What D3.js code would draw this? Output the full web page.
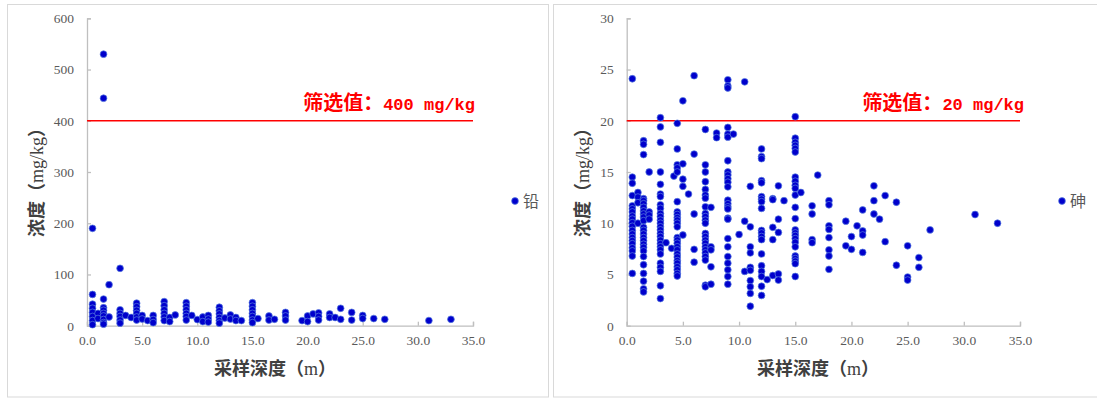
<!DOCTYPE html>
<html><head><meta charset="utf-8">
<script src="https://cdn.jsdelivr.net/npm/d3@7"></script>
<style>
html,body{margin:0;padding:0;background:#fff;}
svg{display:block;}
</style></head>
<body>
<svg id="chart" width="1097" height="398"></svg>
<script>
// ---------------- data ----------------
const xTicks = [0, 5, 10, 15, 20, 25, 30, 35];
const pbYTicks = [0, 100, 200, 300, 400, 500, 600];
const asYTicks = [0, 5, 10, 15, 20, 25, 30];

const pbName = "铅";
const pbThreshold = 400;
const pbThresholdLabel = "400 mg/kg";
const pbDepths = [0.5, 1.0, 1.5, 2.0, 3.0, 3.5, 4.0, 4.5, 5.0, 5.5, 6.0, 7.0, 7.5, 8.0, 9.0, 9.5, 10.0, 10.5, 11.0, 12.0, 12.5, 13.0, 13.5, 14.0, 15.0, 15.5, 16.5, 17.0, 18.0, 19.5, 20.0, 20.5, 21.0, 22.0, 22.5, 23.0, 24.0, 25.0, 26.0, 27.0, 31.0, 33.0];
const pbValues = [
  [190, 61, 42, 34, 26, 18, 10, 2],
  [24, 14],
  [530, 444, 52, 35, 30, 24, 19, 12, 6, 3],
  [80, 17],
  [112, 31, 24, 18, 11, 5],
  [20],
  [16],
  [44, 37, 30, 24, 17, 11],
  [20, 13],
  [10],
  [20, 12, 6],
  [47, 39, 31, 24, 17, 10],
  [16, 8],
  [21],
  [45, 38, 31, 24, 18, 11],
  [20],
  [12],
  [17, 8],
  [20, 13, 7],
  [36, 29, 23, 16, 10, 5],
  [15],
  [21, 13],
  [16, 10],
  [10],
  [45, 38, 31, 24, 18, 11, 6],
  [14],
  [19, 11],
  [12.5],
  [26, 19, 11],
  [10],
  [19, 8],
  [23],
  [25, 18, 11],
  [23, 16],
  [16],
  [34, 12.5],
  [26, 11],
  [20, 14],
  [14],
  [12.5],
  [10],
  [12.5]
];

const asName = "砷";
const asThreshold = 20;
const asThresholdLabel = "20 mg/kg";
const asDepths = [0.5, 1.0, 1.5, 2.0, 3.0, 3.5, 4.0, 4.2, 4.5, 5.0, 5.5, 6.0, 7.0, 7.5, 8.0, 9.0, 9.5, 10.0, 10.5, 11.0, 12.0, 12.5, 13.0, 13.5, 14.0, 15.0, 15.5, 16.5, 17.0, 18.0, 19.5, 20.0, 20.5, 21.0, 22.0, 22.5, 23.0, 24.0, 25.0, 26.0, 27.0, 31.0, 33.0];
const asValues = [
  [24.1, 14.5, 13.9, 12.7, 11.7, 11.4, 11.1, 10.7, 10.4, 10.05, 9.7, 9.3, 8.95, 8.6, 8.3, 8.0, 7.6, 7.3, 6.8, 5.1],
  [13.0, 12.55, 12.0, 10.0],
  [18.05, 17.7, 16.7, 12.4, 12.2, 11.9, 11.55, 11.2, 10.9, 10.6, 10.25, 9.6, 9.3, 8.95, 8.6, 8.3, 7.95, 7.65, 7.3, 6.75, 5.95, 5.1, 4.35, 3.6, 3.3],
  [15.0, 11.1, 10.8, 10.4],
  [20.3, 19.4, 17.9, 15.0, 13.8, 12.85, 12.6, 11.8, 11.45, 10.95, 10.65, 10.3, 10.0, 9.65, 9.35, 9.0, 8.7, 8.35, 8.0, 7.7, 7.4, 7.0, 6.1, 5.7, 5.3, 3.9, 2.65],
  [8.1],
  [7.55],
  [14.6],
  [19.75, 17.25, 15.7, 15.4, 15.0, 12.1, 11.1, 10.85, 10.55, 10.3, 10.0, 9.65, 8.6, 8.35, 8.05, 7.7, 7.4, 7.0, 6.7, 6.35, 6.1, 5.75, 5.45, 5.1, 4.85],
  [21.95, 15.8, 14.3, 13.6, 8.85],
  [12.85],
  [24.4, 16.75, 10.9, 7.45, 6.2],
  [19.15, 15.7, 15.0, 14.05, 13.3, 12.75, 12.45, 11.6, 10.95, 10.65, 10.3, 10.0, 9.0, 8.7, 8.35, 8.05, 7.7, 7.4, 7.1, 6.75, 6.4, 3.95, 3.8],
  [11.55, 7.7, 7.4, 5.75, 4.05],
  [18.8, 18.35],
  [24.0, 23.4, 23.2, 19.35, 18.7, 18.4, 16.1, 15.0, 14.7, 14.35, 14.0, 13.55, 12.25, 11.9, 11.6, 11.4, 10.5, 10.4, 8.5, 7.7, 6.75, 6.1, 5.45, 4.8, 4.05],
  [18.7],
  [8.9],
  [23.8, 10.2, 5.3],
  [13.6, 9.65, 7.7, 7.1, 5.7, 5.4, 4.4, 3.8, 3.15, 1.9],
  [17.25, 16.5, 16.3, 14.15, 13.95, 12.6, 12.35, 12.1, 11.45, 9.3, 9.05, 8.7, 8.4, 7.0, 5.85, 5.3, 4.8, 3.85, 2.95],
  [4.5],
  [12.4, 12.3, 9.6, 8.4, 4.9],
  [13.65, 10.4, 9.1, 5.05, 4.45],
  [12.2],
  [20.4, 18.3, 17.9, 17.6, 17.3, 16.95, 14.5, 14.1, 13.7, 13.4, 12.75, 11.55, 10.45, 9.35, 9.05, 8.8, 8.5, 8.15, 7.7, 6.8, 6.55, 6.3, 6.05, 4.8],
  [13.0],
  [11.7, 10.9, 8.4, 8.1],
  [14.7],
  [12.2, 11.8, 9.75, 9.4, 8.6, 7.4, 6.8, 5.5],
  [10.2, 7.8],
  [8.7, 7.45],
  [9.75],
  [11.3, 9.25, 8.85, 7.15],
  [13.65, 12.2, 10.9],
  [10.4],
  [12.7, 8.2],
  [12.05, 5.9],
  [7.8, 4.75, 4.45],
  [6.65, 5.7],
  [9.35],
  [10.85],
  [10.0]
];

// ---------------- drawing ----------------
const svg = d3.select("#chart");
const axisColor = "#bfbfbf";
const textColor = "#595959";
const titleColor = "#404040";
const dotFill = "#0000cc";
const dotStroke = "#5a7fe0";
const red = "#ff0000";

function panel(opts) {
  const g = svg.append("g");
  // frame
  g.append("rect").attr("x", opts.frame[0] + 0.5).attr("y", 4.5)
    .attr("width", opts.frame[1]).attr("height", 392.5)
    .attr("fill", "none").attr("stroke", "#d9d9d9").attr("stroke-width", 1);

  const x = d3.scaleLinear().domain([0, 35]).range([opts.x0, opts.x1]);
  const y = d3.scaleLinear().domain([0, opts.yMax]).range([325.7, 18.3]);

  // x axis
  const xAxis = g.append("g").attr("transform", `translate(0,${y(0)})`)
    .call(d3.axisBottom(x).tickValues(opts.xTicks).tickSize(-4).tickPadding(7)
      .tickFormat(d3.format(".1f")));
  // y axis
  const yAxis = g.append("g").attr("transform", `translate(${x(0)},0)`)
    .call(d3.axisLeft(y).tickValues(opts.yTicks).tickSize(-4).tickPadding(13)
      .tickFormat(d => d));
  [xAxis, yAxis].forEach(a => {
    a.select(".domain").attr("stroke", axisColor).attr("stroke-width", 1.3);
    a.selectAll(".tick line").attr("stroke", axisColor).attr("stroke-width", 1.3);
    a.selectAll(".tick text").attr("fill", textColor)
      .style("font-family", "'Liberation Serif','Times New Roman',serif")
      .style("font-size", "13.5px");
  });
  yAxis.selectAll(".tick").filter(d => d === 0).select("line").remove();
  xAxis.selectAll(".tick text").attr("dy", "0.9em");

  // threshold line
  g.append("line").attr("x1", x(0)).attr("x2", x(35))
    .attr("y1", y(opts.threshold)).attr("y2", y(opts.threshold))
    .attr("stroke", red).attr("stroke-width", 1.4);
  const lab = g.append("text").attr("x", opts.labelEnd).attr("y", 110)
    .attr("text-anchor", "end").attr("fill", red).attr("font-weight", "bold");
  lab.append("tspan").style("font-family", "'Noto Sans CJK SC',sans-serif")
    .style("font-size", "20px").text("筛选值：");
  lab.append("tspan").style("font-family", "'Liberation Mono',monospace")
    .style("font-size", "17px").text(opts.thresholdLabel);

  // points
  const pts = [];
  opts.depths.forEach((dep, i) => opts.values[i].forEach(v => pts.push([dep, v])));
  g.append("g").selectAll("circle").data(pts).join("circle")
    .attr("cx", d => x(d[0])).attr("cy", d => y(d[1])).attr("r", 3.4)
    .attr("fill", dotFill).attr("stroke", dotStroke).attr("stroke-width", 0.7);

  // y title
  const yt = g.append("text")
    .attr("transform", `translate(${opts.yTitleX},178) rotate(-90)`)
    .attr("text-anchor", "middle").attr("dy", "0.35em").attr("fill", titleColor)
    .attr("font-weight", "bold");
  yt.append("tspan").style("font-family", "'Noto Sans CJK SC',sans-serif").style("font-size", "18px").text("浓度（");
  yt.append("tspan").style("font-family", "'Liberation Serif',serif").style("font-size", "18px").attr("font-weight", "normal").text("mg/kg");
  yt.append("tspan").style("font-family", "'Noto Sans CJK SC',sans-serif").style("font-size", "18px").text("）");

  // x title
  const xt = g.append("text").attr("x", opts.xTitleX).attr("y", 375)
    .attr("text-anchor", "middle").attr("fill", titleColor).attr("font-weight", "bold");
  xt.append("tspan").style("font-family", "'Noto Sans CJK SC',sans-serif").style("font-size", "18px").text("采样深度（");
  xt.append("tspan").style("font-family", "'Liberation Serif',serif").style("font-size", "18px").attr("font-weight", "normal").text("m");
  xt.append("tspan").style("font-family", "'Noto Sans CJK SC',sans-serif").style("font-size", "18px").text("）");

  // legend
  g.append("circle").attr("cx", opts.legendX).attr("cy", 201).attr("r", 3.4)
    .attr("fill", dotFill).attr("stroke", dotStroke).attr("stroke-width", 0.7);
  g.append("text").attr("x", opts.legendX + 8).attr("y", 201).attr("dy", "0.36em")
    .attr("fill", textColor).style("font-family", "'Noto Sans CJK SC',sans-serif")
    .style("font-size", "16px").text(opts.name);
}

panel({
  frame: [7, 541], x0: 87, x1: 473, yMax: 600, xTicks: xTicks, yTicks: pbYTicks,
  threshold: pbThreshold, thresholdLabel: pbThresholdLabel, labelEnd: 475,
  depths: pbDepths, values: pbValues, yTitleX: 37, xTitleX: 275, legendX: 515, name: pbName
});
panel({
  frame: [553, 545], x0: 626.7, x1: 1020, yMax: 30, xTicks: xTicks, yTicks: asYTicks,
  threshold: asThreshold, thresholdLabel: asThresholdLabel, labelEnd: 1024,
  depths: asDepths, values: asValues, yTitleX: 583, xTitleX: 818, legendX: 1062, name: asName
});
</script>
</body></html>
